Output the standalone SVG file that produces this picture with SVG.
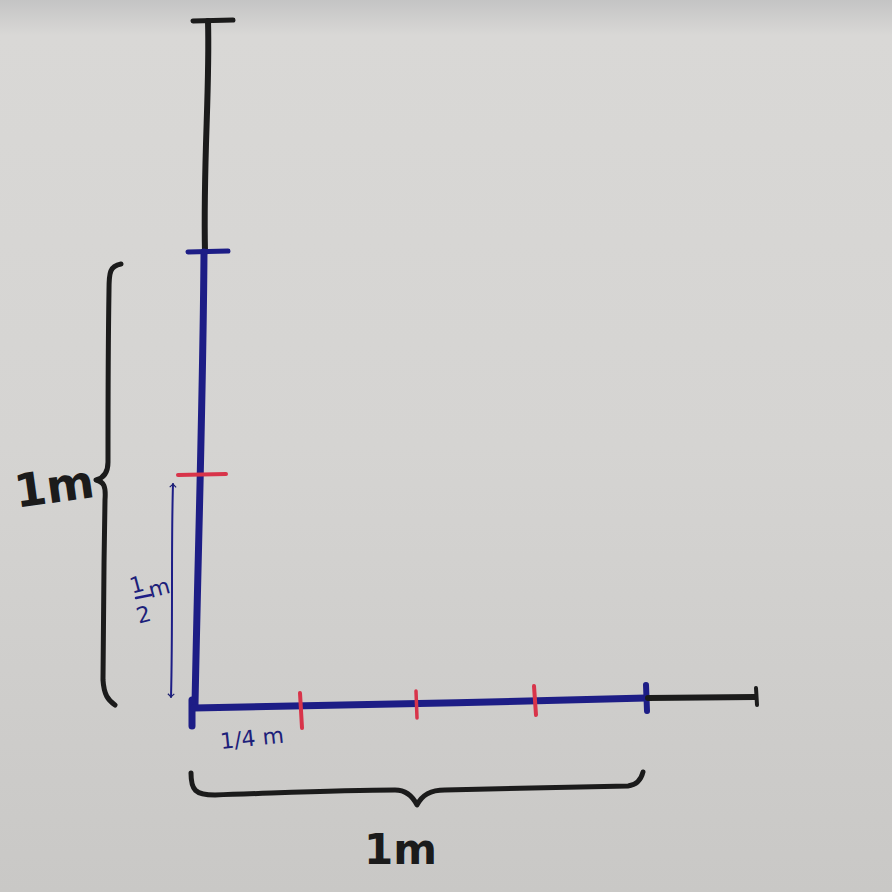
<svg xmlns="http://www.w3.org/2000/svg" width="892" height="892" viewBox="0 0 892 892">
<defs>
<linearGradient id="bg" x1="0" y1="0" x2="0" y2="1">
<stop offset="0" stop-color="#c4c4c4"/>
<stop offset="0.04" stop-color="#d9d8d6"/>
<stop offset="0.5" stop-color="#d5d4d2"/>
<stop offset="1" stop-color="#c9c8c6"/>
</linearGradient>
<marker id="ah" viewBox="0 0 10 10" refX="5" refY="5" markerWidth="8" markerHeight="8" orient="auto-start-reverse" markerUnits="userSpaceOnUse">
<path d="M1,1 L5,5 L1,9" fill="none" stroke="#1c1f6e" stroke-width="1.5"/>
</marker>
<style>
.blk{stroke:#1b1b1b;fill:none;stroke-linecap:round;stroke-linejoin:round}
.blu{stroke:#1d1d86;fill:none;stroke-linecap:round;stroke-linejoin:round}
.red{stroke:#d8344a;fill:none;stroke-linecap:round}
.lbl{font-family:"DejaVu Sans",sans-serif;fill:#1b1b1b;font-weight:bold}
.sm{font-family:"DejaVu Sans",sans-serif;fill:#1d1f7a}
</style>
</defs>
<rect width="892" height="892" fill="url(#bg)"/>
<g id="connectors">
<path class="blk" stroke-width="6" d="M208,21 C210,90 203,160 205,252"/>
<path class="blk" stroke-width="5" d="M193,21 L233,20"/>
<path class="blu" stroke-width="7" d="M204,252 C203,400 198,550 195,705"/>
<path class="blu" stroke-width="5" d="M188,252 L228,251"/>
<path class="blu" stroke-width="7" d="M192,700 L192,726"/>
<path class="blu" stroke-width="7" d="M194,708 C330,706 500,702 646,698"/>
<path class="blu" stroke-width="6" d="M646,685 L647,711"/>
<path class="blk" stroke-width="6" d="M648,698 L755,697"/>
<path class="blk" stroke-width="4" d="M756,688 L757,705"/>
<path class="red" stroke-width="4" d="M178,475 L226,474"/>
<path class="red" stroke-width="4" d="M300,693 L302,728"/>
<path class="red" stroke-width="3.5" d="M416,691 L417,718"/>
<path class="red" stroke-width="4" d="M534,686 L536,715"/>
<path class="blu" stroke-width="2" marker-start="url(#ah)" marker-end="url(#ah)" d="M173,484 C171,550 173,620 171,697"/>
<path class="blk" stroke-width="5" d="M121,264 C110,266 109,272 109,290 C108,350 108,420 108,462 C108,472 104,478 96,480 C104,482 106,486 105,500 C104,560 103,630 103,680 C104,695 108,700 115,705"/>
<path class="blk" stroke-width="5" d="M191,773 C191,790 195,795 215,795 C280,793 340,790 395,790 C405,790 412,795 417,805 C422,795 430,790 445,790 C520,788 580,787 628,786 C637,785 641,780 643,772"/>
<path class="blu" stroke-width="2.5" d="M136,598 L151,595"/>
</g>
<g id="labels">
<text class="lbl" x="14" y="503" font-size="46" transform="rotate(-8 50 485)">1m</text>
<text class="lbl" x="364" y="864" font-size="42">1m</text>
<text class="sm" x="130" y="592" font-size="22" transform="rotate(-15 138 585)">1</text>
<text class="sm" x="136" y="622" font-size="22" transform="rotate(-15 144 612)">2</text>
<text class="sm" x="149" y="596" font-size="22" transform="rotate(-15 158 590)">m</text>
<text class="sm" x="220" y="746" font-size="22" transform="rotate(-6 250 738)">1/4 m</text>
</g>
</svg>
